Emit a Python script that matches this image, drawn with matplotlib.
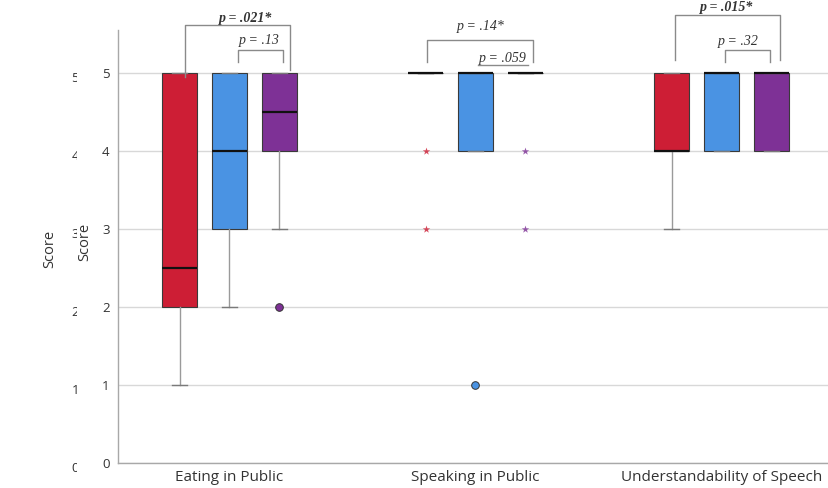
import matplotlib
matplotlib.use('Agg')
import matplotlib.pyplot as plt

# Score summaries per domain, one entry per group (red, blue, purple)
domains = ['Eating in Public', 'Speaking in Public', 'Understandability of Speech']
group_colors = ['#CD1E35', '#4A93E3', '#7E3196']

q1 = [[2, 3, 4], [5, 4, 5], [4, 4, 4]]
med = [[2.5, 4, 4.5], [5, 5, 5], [4, 5, 5]]
q3 = [[5, 5, 5], [5, 5, 5], [5, 5, 5]]
whis_lo = [[1, 2, 3], [5, 4, 5], [3, 4, 4]]
whis_hi = [[5, 5, 5], [5, 5, 5], [5, 5, 5]]
outliers = [[[], [], [2]], [[], [1], []], [[], [], []]]
extremes = [[[], [], []], [[4, 3], [], [4, 3]], [[], [], []]]

# pairwise comparisons: (domain, label, bold)
p_labels = [
    (0, 'p = .021*', True), (0, 'p = .13', False),
    (1, 'p = .14*', False), (1, 'p = .059', False),
    (2, 'p = .015*', True), (2, 'p = .32', False),
]

OFFSET = 0.203
BOX_W = 0.142
TXT = '#333333'

fig = plt.figure(figsize=(8.29, 4.88), dpi=100)
ax = fig.add_axes([118 / 829, 1 - 463 / 488, 1 - 118 / 829, 433 / 488])
ax.set_xlim(-0.453, 2.437)
ax.set_ylim(0, 433 / 78)

for d in range(len(domains)):
    for g in range(3):
        stats = [{
            'q1': q1[d][g], 'med': med[d][g], 'q3': q3[d][g],
            'whislo': whis_lo[d][g], 'whishi': whis_hi[d][g],
            'fliers': outliers[d][g],
        }]
        ax.bxp(stats, positions=[d + (g - 1) * OFFSET], widths=BOX_W,
               capwidths=BOX_W * 0.45, patch_artist=True,
               boxprops=dict(facecolor=group_colors[g], edgecolor='#3a3a3a', linewidth=0.8),
               medianprops=dict(color='#111111', linewidth=1.6),
               whiskerprops=dict(color='#9a9a9a', linewidth=1.0),
               capprops=dict(color='#7a7a7a', linewidth=1.0),
               flierprops=dict(marker='o', markerfacecolor=group_colors[g],
                               markeredgecolor='#333333', markersize=5.5,
                               markeredgewidth=0.7),
               manage_ticks=False, zorder=3)
        if extremes[d][g]:
            ax.scatter([d + (g - 1) * OFFSET] * len(extremes[d][g]), extremes[d][g],
                       marker='*', s=32, color=group_colors[g], alpha=0.8,
                       linewidths=0, zorder=4)

# brackets above the boxes, drawn outside the axes area
line_kw = dict(color='#8a8a8a', linewidth=1.0, clip_on=False, zorder=5)
text_kw = dict(ha='center', va='center', family='Liberation Serif',
               style='italic', fontsize=10, color=TXT, clip_on=False)

brackets = [
    # x left, x right, top, left foot, right foot
    (-0.181, 0.246, 5.615, 4.95, 5.04),
    (0.035, 0.217, 5.295, 5.14, 5.14),
    (0.803, 1.234, 5.423, 5.14, 5.14),
    (1.811, 2.238, 5.744, 5.17, 5.17),
    (2.014, 2.197, 5.295, 5.14, 5.14),
]
for xl, xr, top, fl, fr in brackets:
    ax.plot([xl, xl, xr, xr], [fl, top, top, fr], **line_kw)
# short rule under the .059 label
ax.plot([1.01, 1.213], [5.10, 5.10], **line_kw)

label_pos = [(0.067, 5.70), (0.12, 5.42), (1.02, 5.59), (1.11, 5.19),
             (2.02, 5.84), (2.07, 5.40)]
for (d, txt, bold), (x, y) in zip(p_labels, label_pos):
    ax.text(x, y, txt, fontweight='bold' if bold else 'normal', **text_kw)

ax.set_xticks(range(len(domains)))
ax.set_xticklabels(domains, family='Open Sans', fontsize=11, color=TXT)
ax.set_yticks(range(6))
ax.set_yticklabels([str(v) for v in range(6)], family='Open Sans', fontsize=9.5,
                   color=TXT)
ax.tick_params(length=0, pad=6)
ax.tick_params(axis='x', pad=5)
ax.grid(axis='y', color='#d8d8d8', linewidth=1.0, zorder=0)
ax.set_axisbelow(True)
for side in ('top', 'right'):
    ax.spines[side].set_visible(False)
for side in ('left', 'bottom'):
    ax.spines[side].set_color('#a8a8a8')
    ax.spines[side].set_linewidth(1.0)

# y axis title
fig.text(85 / 829, 1 - 242 / 488, 'Score', rotation=90, ha='center', va='center',
         family='Open Sans', fontsize=10.5, color=TXT)

# second copy of the y axis text, offset to the left and clipped on the right
ghost = fig.add_axes([0, 0, 77 / 829, 1])
ghost.set_xlim(0, 77)
ghost.set_ylim(-(488 - 469) / 78, 469 / 78)
ghost.axis('off')
for v in range(6):
    ghost.text(79, v, str(v), ha='right', va='center', family='Open Sans',
               fontsize=9.5, color=TXT, clip_on=True)
fig.text(50 / 829, 1 - 249 / 488, 'Score', rotation=90, ha='center', va='center',
         family='Open Sans', fontsize=10.5, color=TXT)

fig.savefig('out.png', dpi=100)
